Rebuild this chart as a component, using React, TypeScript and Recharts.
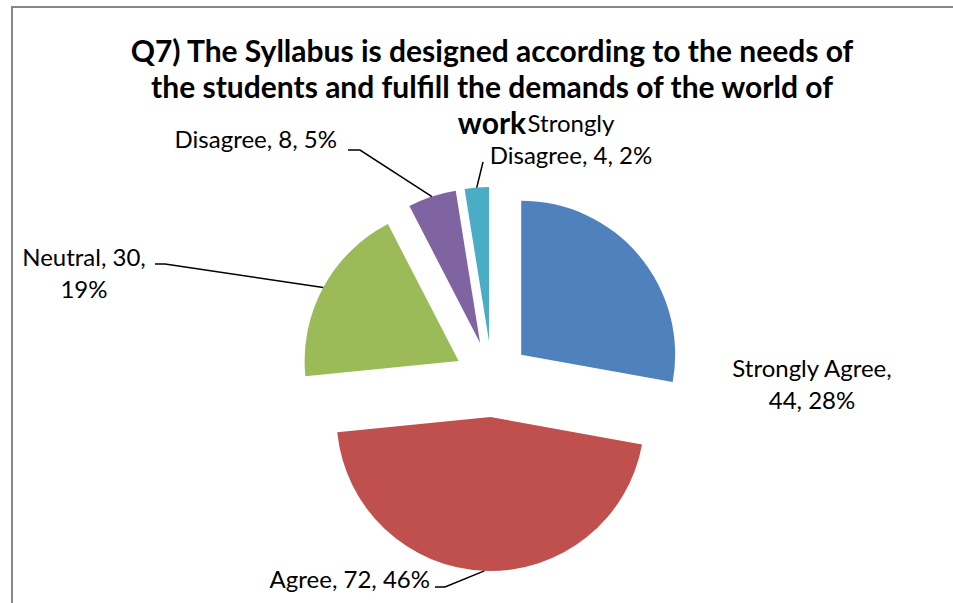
import React from 'react';
import { PieChart, Pie, Cell } from 'recharts';

const CATEGORIES = ['Strongly Agree', 'Agree', 'Neutral', 'Disagree', 'Strongly Disagree'];
const VALUES = [44, 72, 30, 8, 4];
const PERCENT_LABELS = ['28%', '46%', '19%', '5%', '2%'];
const COLORS = ['#4F81BD', '#C0504D', '#9BBB59', '#8064A2', '#4BACC6'];
const TITLE_LINES = [
  'Q7) The Syllabus is designed according to the needs of',
  'the students and fulfill the demands of the world of',
  'work',
];

const W = 953;
const H = 603;
const CENTER = { x: 492, y: 379 };
const RADIUS = 154;
const EXPLODE = 38;
const FONT = 'Lato, "Open Sans", sans-serif';
const LABEL_SIZE = 24;
const LINE_GAP = 32;

// label layout: anchor point, alignment, words on first line, leader-line elbow points
type LabelLayout = {
  x: number;
  y: number;
  anchor: 'start' | 'middle' | 'end';
  firstLineWords: number;
  leader: number[][] | null;
};
const LABEL_LAYOUT: LabelLayout[] = [
  { x: 812, y: 377, anchor: 'middle', firstLineWords: 2, leader: null },
  { x: 430, y: 588, anchor: 'end', firstLineWords: 99, leader: [[435, 587], [445, 587]] },
  { x: 84, y: 266, anchor: 'middle', firstLineWords: 2, leader: [[155, 264], [165, 264]] },
  { x: 337, y: 148, anchor: 'end', firstLineWords: 99, leader: [[348, 150], [360, 150]] },
  { x: 571, y: 132, anchor: 'middle', firstLineWords: 1, leader: [[483, 162]] },
];

const RAD = Math.PI / 180;
const total = VALUES.reduce((a, b) => a + b, 0);
const midAngles: number[] = [];
{
  let acc = 0;
  VALUES.forEach((v) => {
    midAngles.push(90 - (360 * (acc + v / 2)) / total);
    acc += v;
  });
}

const data = CATEGORIES.map((name, i) => ({ name, value: VALUES[i], pct: PERCENT_LABELS[i] }));

const makeLabel = (idx: number) => (props: any) => {
  if (props.index !== idx) return null;
  const lay = LABEL_LAYOUT[idx];
  const words = `${props.name}, ${props.value}, ${data[idx].pct}`.split(' ');
  const lines = [words.slice(0, lay.firstLineWords).join(' ')];
  if (words.length > lay.firstLineWords) lines.push(words.slice(lay.firstLineWords).join(' '));
  const ex = props.cx + Math.cos(-props.midAngle * RAD) * props.outerRadius;
  const ey = props.cy + Math.sin(-props.midAngle * RAD) * props.outerRadius;
  const pts = lay.leader ? [...lay.leader, [ex, ey]] : null;
  return (
    <g key={`lbl-${idx}`}>
      {pts && (
        <polyline
          points={pts.map((p) => p.join(',')).join(' ')}
          fill="none"
          stroke="#000"
          strokeWidth={1.5}
        />
      )}
      {lines.map((ln, k) => (
        <text
          key={k}
          x={lay.x}
          y={lay.y + k * LINE_GAP}
          textAnchor={lay.anchor}
          fontFamily={FONT}
          fontSize={LABEL_SIZE}
          fill="#000"
        >
          {ln}
        </text>
      ))}
    </g>
  );
};

export default function App() {
  return (
    <div style={{ position: 'absolute', left: 0, top: 0, width: W, height: H, background: '#fff', overflow: 'hidden' }}>
      <PieChart width={W} height={H} margin={{ top: 0, right: 0, bottom: 0, left: 0 }}>
        {VALUES.map((_, i) => {
          const m = midAngles[i];
          const cx = CENTER.x + EXPLODE * Math.cos(m * RAD);
          const cy = CENTER.y - EXPLODE * Math.sin(m * RAD);
          return (
            <Pie
              key={i}
              data={data}
              dataKey="value"
              nameKey="name"
              cx={cx}
              cy={cy}
              innerRadius={0}
              outerRadius={RADIUS}
              startAngle={90}
              endAngle={-270}
              stroke="none"
              isAnimationActive={false}
              label={makeLabel(i)}
              labelLine={false}
            >
              {data.map((d, j) => (
                <Cell key={j} fill={j === i ? COLORS[j] : 'none'} />
              ))}
            </Pie>
          );
        })}
      </PieChart>
      <svg
        width={W}
        height={H}
        style={{ position: 'absolute', left: 0, top: 0, pointerEvents: 'none' }}
      >
        <line x1={12} y1={7} x2={W} y2={7} stroke="#878787" strokeWidth={2} />
        <line x1={12} y1={6} x2={12} y2={H} stroke="#878787" strokeWidth={2} />
        {TITLE_LINES.map((t, k) => (
          <text
            key={k}
            x={492}
            y={62 + k * 36}
            textAnchor="middle"
            fontFamily={FONT}
            fontWeight="bold"
            fontSize={30}
            fill="#000"
          >
            {t}
          </text>
        ))}
      </svg>
    </div>
  );
}
